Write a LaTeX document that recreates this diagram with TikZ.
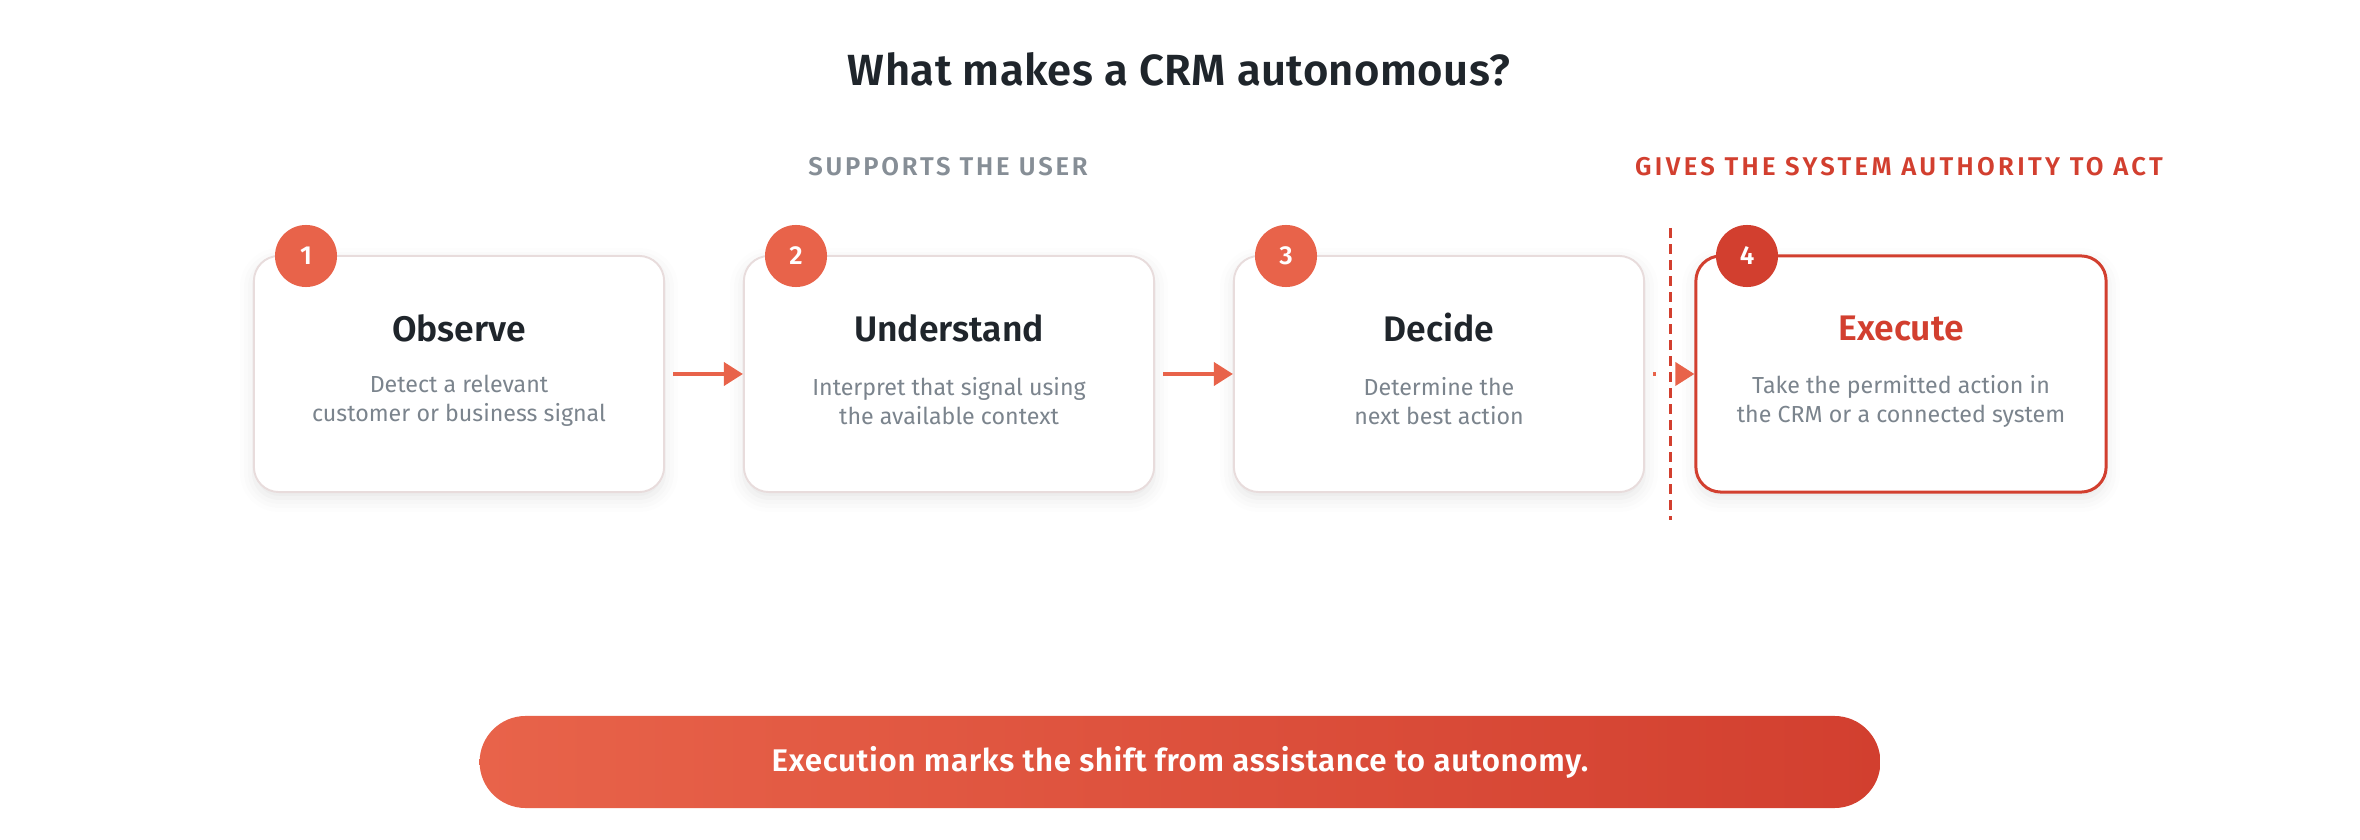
\documentclass[tikz,border=0pt]{standalone}
\usepackage{fontspec}
\setmainfont{Fira Sans}[BoldFont={* SemiBold}]
\usetikzlibrary{positioning,arrows.meta,shadows.blur}
\definecolor{coral}{HTML}{E8634A}
\definecolor{deepred}{HTML}{D23F2F}
\definecolor{inkdark}{HTML}{1F252B}
\definecolor{inkgray}{HTML}{7B848D}
\definecolor{capgray}{HTML}{868E96}
\definecolor{cardline}{HTML}{E8DCDC}

\begin{document}
\begin{tikzpicture}[x=0.01cm,y=-0.01cm,
  card/.style={draw=cardline,line width=0.55pt,fill=white,rounded corners=0.25cm,
    minimum width=4.1cm,minimum height=2.36cm,
    blur shadow={shadow xshift=0pt,shadow yshift=-0.06cm,shadow blur radius=0.14cm,shadow opacity=10}},
  cardact/.style={card,draw=deepred,line width=0.85pt},
  num/.style={circle,fill=coral,text=white,minimum size=0.62cm,inner sep=0pt,
    font=\fontsize{7.4}{8}\selectfont\bfseries},
  head/.style={text=inkdark,font=\fontsize{10.1}{12}\selectfont\bfseries},
  desc/.style={text=inkgray,align=center,font=\fontsize{6.6}{8.25}\selectfont},
  tag/.style={font=\fontsize{7.3}{8}\selectfont\bfseries\addfontfeatures{LetterSpace=11}},
  flow/.style={draw=coral,line width=1.1pt,shorten <=0.08cm,-{Triangle[length=0.19cm,width=0.23cm]}}]
  \useasboundingbox (0,0) rectangle (2360,840);
  \newcommand{\rowy}{374};

  \node[font=\fontsize{12.4}{14}\selectfont\bfseries\addfontfeatures{LetterSpace=1},text=inkdark] (title) at (1179,69) {What makes a CRM autonomous?};
  \node[tag,text=capgray] (tagUser) at (948,167) {SUPPORTS THE USER};
  \node[tag,text=deepred,font=\fontsize{7.3}{8}\selectfont\bfseries\addfontfeatures{LetterSpace=13}] (tagAct) at (1899,167) {GIVES THE SYSTEM AUTHORITY TO ACT};

  \node[card] (cObs) at (459,\rowy) {};
  \node[card] (cUnd) at (949,\rowy) {};
  \node[card] (cDec) at (1439,\rowy) {};
  \node[cardact] (cExe) at (1901,\rowy) {};

  \node[num] (n1) at (306,256) {1};
  \node[num] (n2) at (796,256) {2};
  \node[num] (n3) at (1286,256) {3};
  \node[num,fill=deepred] (n4) at (1747,256) {4};

  \node[head] (hObs) at (459,328) {Observe};
  \node[head] (hUnd) at (949,328) {Understand};
  \node[head] (hDec) at (1439,328) {Decide};
  \node[head,text=deepred] (hExe) at (1901,328) {Execute};

  \node[desc] (dObs) at (459,401) {Detect a relevant\\customer or business signal};
  \node[desc] (dUnd) at (949,401) {Interpret that signal using\\the available context};
  \node[desc] (dDec) at (1439,401) {Determine the\\next best action};
  \node[desc] (dExe) at (1901,401) {Take the permitted action in\\the CRM or a connected system};

  \draw[flow] (cObs) -- (cUnd);
  \draw[flow] (cUnd) -- (cDec);
  \draw[flow,dash pattern=on 0.03cm off 1cm] (cDec) -- (cExe);

  \coordinate (divTop) at (1670,228);
  \coordinate (divBot) at (1670,520);
  \draw[deepred,line width=0.85pt,dash pattern=on 0.1cm off 0.06cm] (divTop) -- (divBot);

  \node[rounded corners=0.46cm,left color=coral,right color=deepred,
    minimum width=14cm,minimum height=0.92cm,text=white,
    font=\fontsize{8.9}{10}\selectfont\bfseries\addfontfeatures{LetterSpace=2}] (note) at (1180,762) {Execution marks the shift from assistance to autonomy.};
\end{tikzpicture}
\end{document}
